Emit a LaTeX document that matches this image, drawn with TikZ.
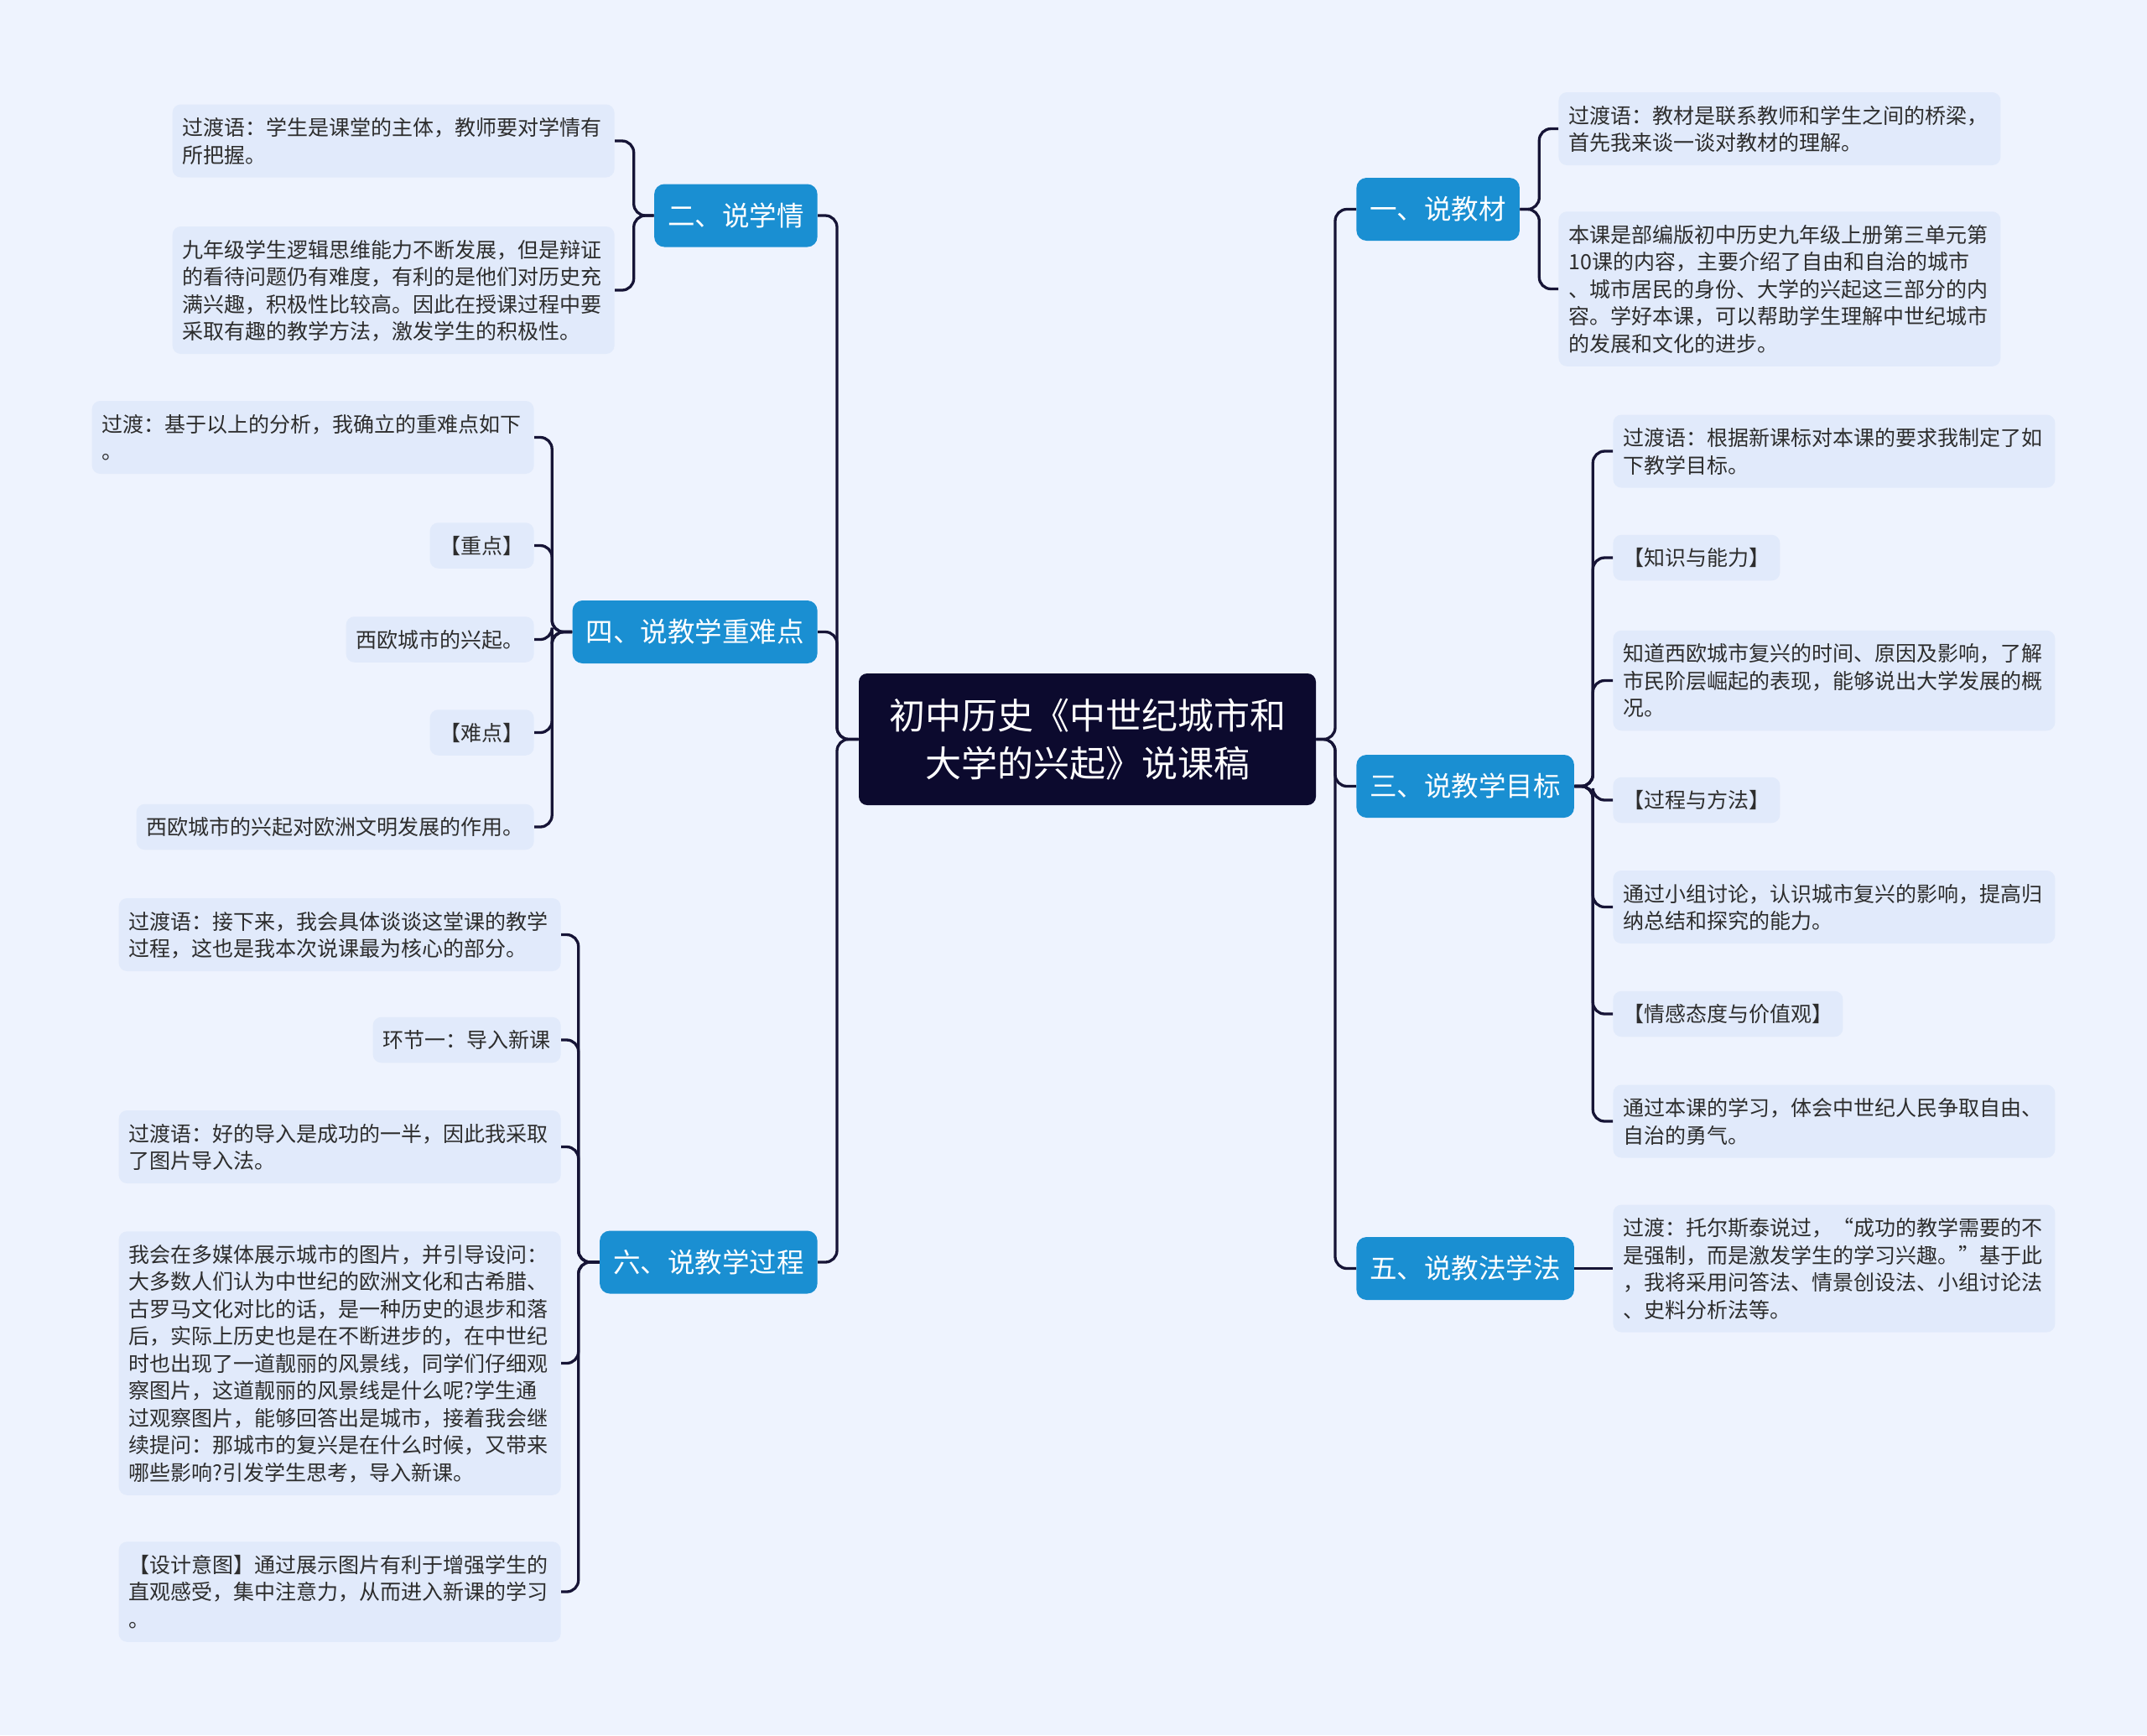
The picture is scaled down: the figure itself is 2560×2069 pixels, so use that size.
\documentclass[tikz,border=0pt]{standalone}
\usepackage{fontspec}
\setmainfont{Noto Sans CJK SC}
\usetikzlibrary{positioning}

\definecolor{bgc}{RGB}{238,243,254}
\definecolor{leafc}{RGB}{225,234,251}
\definecolor{branchc}{RGB}{26,143,210}
\definecolor{rootc}{RGB}{12,10,46}
\definecolor{linec}{RGB}{22,20,54}
\definecolor{textc}{RGB}{45,45,45}

\newcommand\leaffont{\fontsize{12.5}{16.25}\selectfont}
\newcommand\branchfont{\fontsize{16.25}{20}\selectfont}
\newcommand\rootfont{\fontsize{21.5}{28.5}\selectfont}
\newcommand\leafstrut{\rule[-3.25pt]{0pt}{16.25pt}}

\begin{document}
\begin{tikzpicture}[x=0.5pt, y=-0.5pt,
  link/.style={draw=linec, line width=1.65pt, rounded corners=7pt},
  leaf/.style={fill=leafc, rounded corners=5pt, inner xsep=6pt, inner ysep=5.5pt,
    font=\leaffont, text=textc, execute at begin node=\leafstrut, execute at end node=\leafstrut},
  leafw/.style={leaf, text width=251.5pt, align=left},
  branch/.style={fill=branchc, text=white, rounded corners=6pt, font=\branchfont,
    inner xsep=8pt, minimum height=37.5pt},
  root/.style={fill=rootc, text=white, rounded corners=5pt, font=\rootfont,
    align=center, minimum width=272.5pt, minimum height=78.5pt}]
\useasboundingbox (0,0) rectangle (2560,2069);
\fill[bgc] (0,0) rectangle (2560,2069);

% centro
\node[root] (root) at (1296.5,881.5) {初中历史《中世纪城市和\\大学的兴起》说课稿};
\coordinate (ltrunk) at (998,881.5);
\coordinate (rtrunk) at (1592,881.5);

% ramas
\node[branch, anchor=west] (b1) at (1617,249.5) {一、说教材};
\node[branch, anchor=east] (b2) at (975,257) {二、说学情};
\node[branch, anchor=west] (b3) at (1617,937.5) {三、说教学目标};
\node[branch, anchor=east] (b4) at (975,753.5) {四、说教学重难点};
\node[branch, anchor=west] (b5) at (1617,1512.5) {五、说教法学法};
\node[branch, anchor=east] (b6) at (975,1505) {六、说教学过程};

\foreach \b in {b2,b4,b6}
  \draw[link] (root.west) -- (ltrunk) |- (\b.east);
\foreach \b in {b1,b3,b5}
  \draw[link] (root.east) -- (rtrunk) |- (\b.west);

% 一、说教材
\node[leafw, anchor=west] (l1a) at (1858,153.5) {过渡语：教材是联系教师和学生之间的桥梁，\\首先我来谈一谈对教材的理解。};
\node[leafw, anchor=west] (l1b) at (1858,344.5) {本课是部编版初中历史九年级上册第三单元第\\10课的内容，主要介绍了自由和自治的城市\\、城市居民的身份、大学的兴起这三部分的内\\容。学好本课，可以帮助学生理解中世纪城市\\的发展和文化的进步。};
\foreach \c in {l1a,l1b}
  \draw[link] (b1.east) -- ++(23,0) |- (\c.west);

% 二、说学情
\node[leafw, anchor=east] (l2a) at (733,168) {过渡语：学生是课堂的主体，教师要对学情有\\所把握。};
\node[leafw, anchor=east] (l2b) at (733,346) {九年级学生逻辑思维能力不断发展，但是辩证\\的看待问题仍有难度，有利的是他们对历史充\\满兴趣，积极性比较高。因此在授课过程中要\\采取有趣的教学方法，激发学生的积极性。};
\foreach \c in {l2a,l2b}
  \draw[link] (b2.west) -- ++(-24,0) |- (\c.east);

% 三、说教学目标
\node[leafw, anchor=west] (l3a) at (1923,538) {过渡语：根据新课标对本课的要求我制定了如\\下教学目标。};
\node[leaf, anchor=west] (l3b) at (1923,665) {【知识与能力】};
\node[leafw, anchor=west] (l3c) at (1923,811.5) {知道西欧城市复兴的时间、原因及影响，了解\\市民阶层崛起的表现，能够说出大学发展的概\\况。};
\node[leaf, anchor=west] (l3d) at (1923,954) {【过程与方法】};
\node[leafw, anchor=west] (l3e) at (1923,1081.5) {通过小组讨论，认识城市复兴的影响，提高归\\纳总结和探究的能力。};
\node[leaf, anchor=west] (l3f) at (1923,1209) {【情感态度与价值观】};
\node[leafw, anchor=west] (l3g) at (1923,1337) {通过本课的学习，体会中世纪人民争取自由、\\自治的勇气。};
\foreach \c in {l3a,l3b,l3c,l3d,l3e,l3f,l3g}
  \draw[link] (b3.east) -- ++(22,0) |- (\c.west);

% 四、说教学重难点
\node[leafw, anchor=east] (l4a) at (637,521.5) {过渡：基于以上的分析，我确立的重难点如下\\。};
\node[leaf, anchor=east] (l4b) at (637,650.5) {【重点】};
\node[leaf, anchor=east] (l4c) at (637,762.5) {西欧城市的兴起。};
\node[leaf, anchor=east] (l4d) at (637,873.5) {【难点】};
\node[leaf, anchor=east] (l4e) at (637,986) {西欧城市的兴起对欧洲文明发展的作用。};
\foreach \c in {l4a,l4b,l4c,l4d,l4e}
  \draw[link] (b4.west) -- ++(-24,0) |- (\c.east);

% 五、说教法学法
\node[leafw, anchor=west] (l5a) at (1923,1512.5) {过渡：托尔斯泰说过，“成功的教学需要的不\\是强制，而是激发学生的学习兴趣。”基于此\\，我将采用问答法、情景创设法、小组讨论法\\、史料分析法等。};
\draw[link] (b5.east) -- (l5a.west);

% 六、说教学过程
\node[leafw, anchor=east] (l6a) at (669,1114.5) {过渡语：接下来，我会具体谈谈这堂课的教学\\过程，这也是我本次说课最为核心的部分。};
\node[leaf, anchor=east] (l6b) at (669,1240) {环节一：导入新课};
\node[leafw, anchor=east] (l6c) at (669,1367.5) {过渡语：好的导入是成功的一半，因此我采取\\了图片导入法。};
\node[leafw, anchor=east] (l6d) at (669,1625.5) {我会在多媒体展示城市的图片，并引导设问：\\大多数人们认为中世纪的欧洲文化和古希腊、\\古罗马文化对比的话，是一种历史的退步和落\\后，实际上历史也是在不断进步的，在中世纪\\时也出现了一道靓丽的风景线，同学们仔细观\\察图片，这道靓丽的风景线是什么呢?学生通\\过观察图片，能够回答出是城市，接着我会继\\续提问：那城市的复兴是在什么时候，又带来\\哪些影响?引发学生思考，导入新课。};
\node[leafw, anchor=east] (l6e) at (669,1898) {【设计意图】通过展示图片有利于增强学生的\\直观感受，集中注意力，从而进入新课的学习\\。};
\foreach \c in {l6a,l6b,l6c,l6d,l6e}
  \draw[link] (b6.west) -- ++(-25,0) |- (\c.east);
\end{tikzpicture}
\end{document}
